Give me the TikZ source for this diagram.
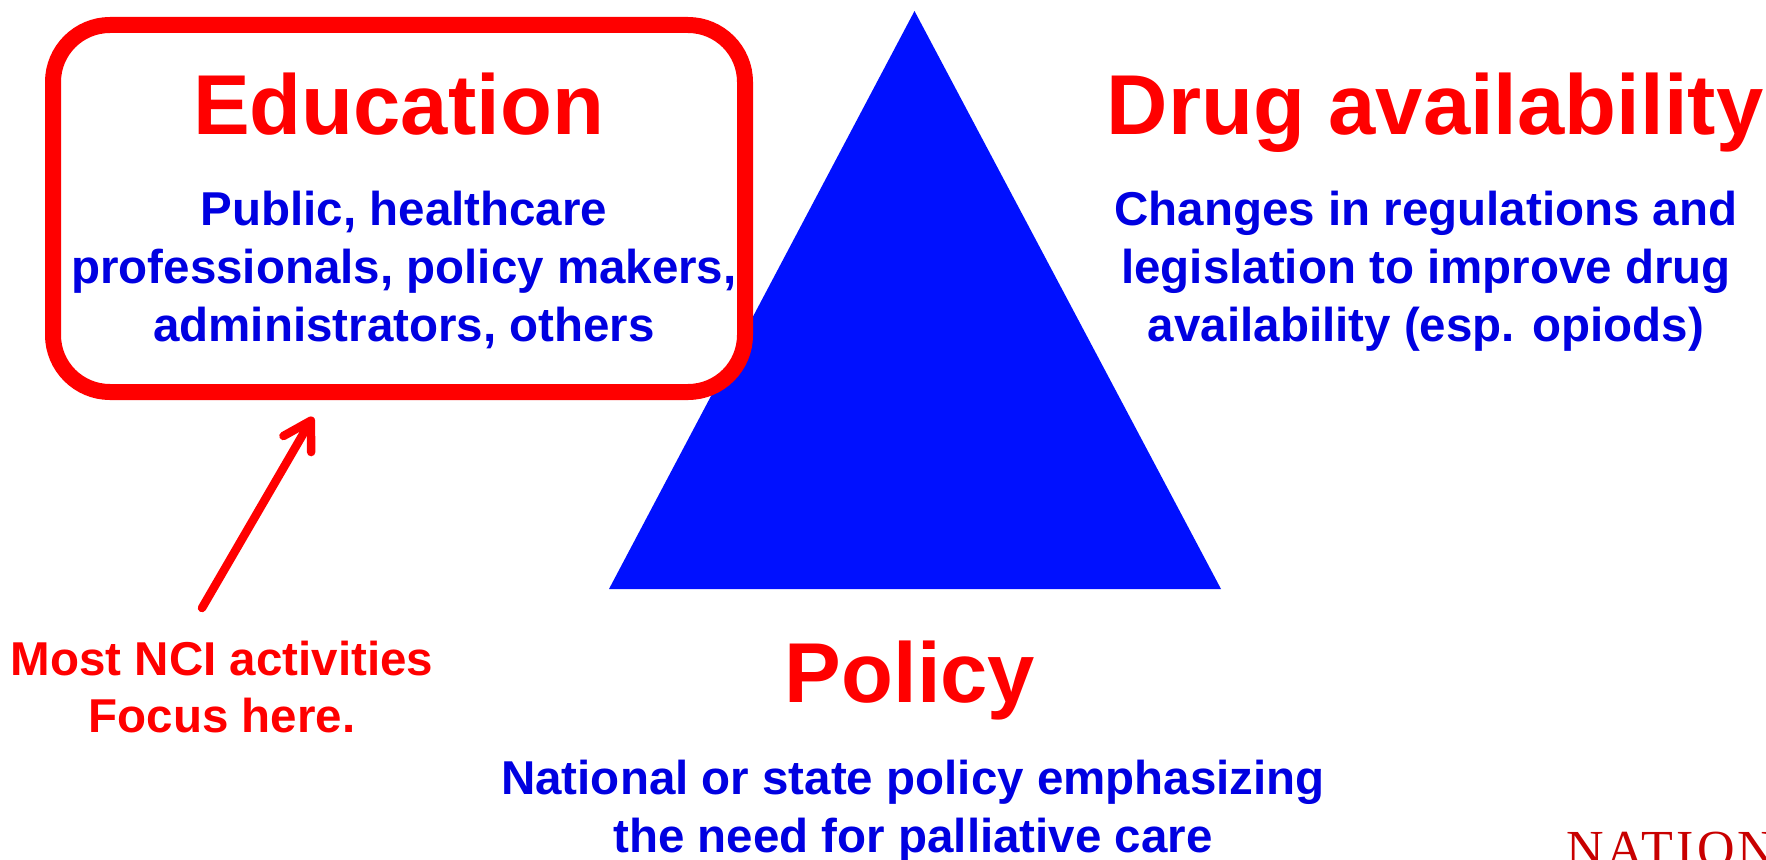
\documentclass[tikz,border=0pt]{standalone}
\usepackage{fontspec}
\setmainfont{Liberation Sans}
\newfontfamily\logofont[LetterSpace=6]{Liberation Serif}
\usetikzlibrary{arrows.meta}
\definecolor{tribblue}{RGB}{0,16,255}
\definecolor{txtblue}{RGB}{0,0,225}
\definecolor{logored}{RGB}{200,0,0}
\begin{document}
\begin{tikzpicture}[x=1pt,y=-1pt,
  title/.style={text=red, font=\bfseries\fontsize{85}{100}\selectfont, inner sep=0pt, anchor=base},
  bodytext/.style={text=txtblue, font=\bfseries\fontsize{47.5}{58}\selectfont, inner sep=0pt, anchor=base},
  notetext/.style={bodytext, text=red},
  framebox/.style={draw=red, line width=16pt, fill=white, rounded corners=57pt,
    inner sep=0pt, outer sep=0pt},
  pointer/.style={draw=red, line width=8.5pt, line cap=round,
    -{Straight Barb[length=27pt,width=32pt,round]}}]
\useasboundingbox (0,0) rectangle (1766,859);

% the policy triangle
\fill[tribblue] (914.5,11) -- (1221,589) -- (609,589) -- cycle;

% education frame, drawn over the triangle
\node[framebox, minimum width=692pt, minimum height=367pt, anchor=north west] (edubox) at (53,25) {};

% education
\node[title] (edu) at (398.5,134) {Education};
\node[bodytext] (edu1) at (404,225.7) {Public, healthcare};
\node[bodytext] (edu2) at (404,283.5) {professionals, policy makers,};
\node[bodytext] (edu3) at (404,341) {administrators, others};

% drug availability
\node[title] (drug) at (1435,134) {Drug availability};
\node[bodytext] (drug1) at (1426,225.7) {Changes in regulations and};
\node[bodytext] (drug2) at (1426,283.5) {legislation to improve drug};
\node[bodytext] (drug3) at (1426,341) {availability (esp. opiods)};

% policy
\node[title] (pol) at (910,702.7) {Policy};
\node[bodytext] (pol1) at (913,794.3) {National or state policy emphasizing};
\node[bodytext] (pol2) at (913,852) {the need for palliative care};

% note with pointer
\node[notetext] (nci1) at (222,675.7) {Most NCI activities};
\node[notetext] (nci2) at (222,732.5) {Focus here.};
\coordinate (ptail) at (202,608);
\coordinate (ptip) at (313,417);
\draw[pointer] (ptail) -- (ptip);

% logo fragment at the corner
\node[font=\logofont\fontsize{52}{52}\selectfont, text=logored, anchor=base west, inner sep=0pt] (logo) at (1566,866.5) {NATION};
\end{tikzpicture}
\end{document}
